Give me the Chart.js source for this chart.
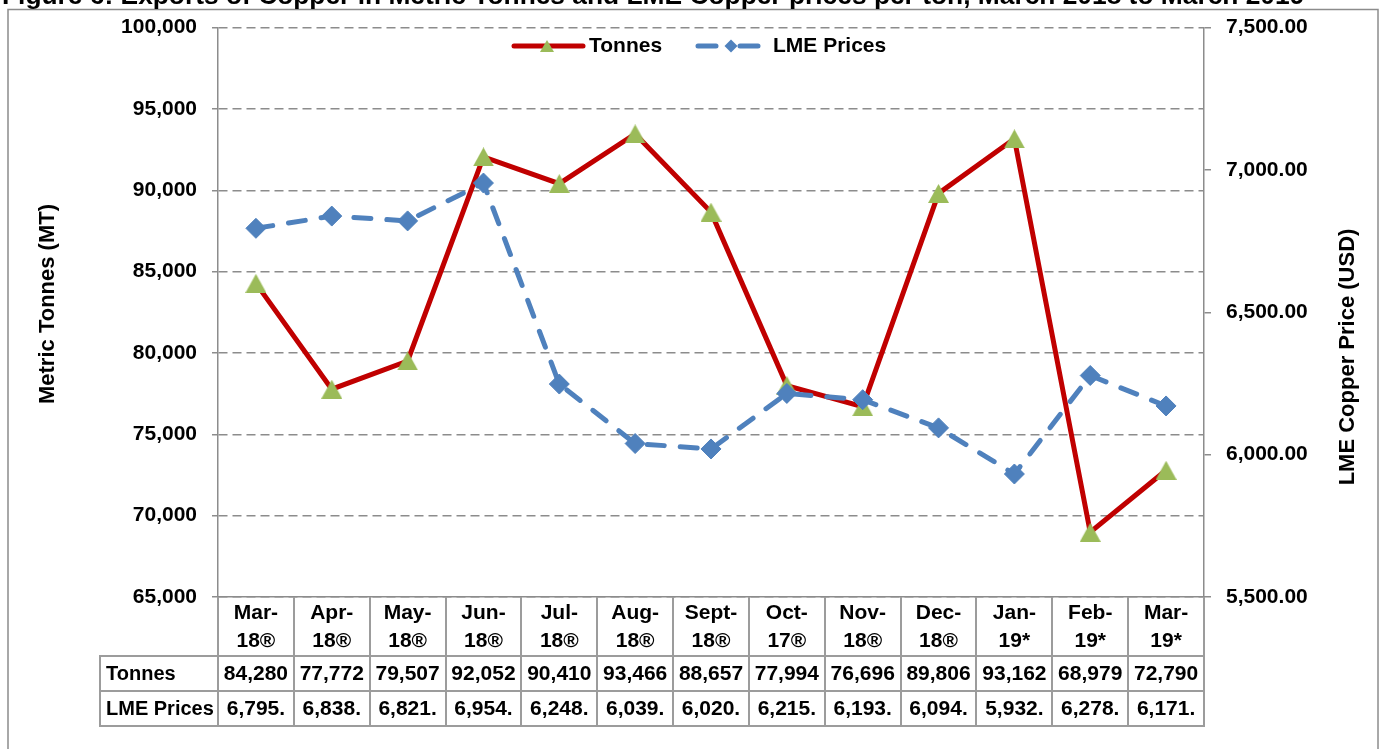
<!DOCTYPE html>
<html>
<head>
<meta charset="utf-8">
<title>Copper exports</title>
<script src="https://cdn.jsdelivr.net/npm/chart.js@4.4.1/dist/chart.umd.min.js"></script>
<style>
    html, body { margin: 0; padding: 0; background: #fff; }
    #wrap { width: 1384px; height: 749px; position: relative; }
</style>
</head>
<body>
<div id="wrap"><canvas id="copperChart"></canvas></div>
<script>
const months = [
    ['Mar-', '18®'], ['Apr-', '18®'], ['May-', '18®'], ['Jun-', '18®'], ['Jul-', '18®'],
    ['Aug-', '18®'], ['Sept-', '18®'], ['Oct-', '17®'], ['Nov-', '18®'], ['Dec-', '18®'],
    ['Jan-', '19*'], ['Feb-', '19*'], ['Mar-', '19*']
];
const tonnes = [84280, 77772, 79507, 92052, 90410, 93466, 88657, 77994, 76696, 89806, 93162, 68979, 72790];
const lmePrices = [6795, 6838, 6821, 6954, 6248, 6039, 6020, 6215, 6193, 6094, 5932, 6278, 6171];
const tonnesAxis = [65000, 100000, 5000];
const priceAxis = [5500, 7500, 500];

const TITLE = 'Figure 6: Exports of Copper in Metric Tonnes and LME Copper prices per ton, March 2018 to March 2019';
const FONT = "'Liberation Sans', Arial, sans-serif";
const GRID = '#8c8c8c';
const RED = '#c00000';
const GREEN = '#9bbb59';
const BLUE = '#4f81bd';

Chart.defaults.color = '#000';
Chart.defaults.font.family = FONT;

const fmt = v => v.toLocaleString('en-US');

// Excel-like triangle: centred on its bounding box, not on the circumcircle
function triangleMarker(w, h) {
    const c = document.createElement('canvas');
    c.width = w;
    c.height = h;
    const g = c.getContext('2d');
    g.fillStyle = GREEN;
    g.beginPath();
    g.moveTo(w / 2, 0);
    g.lineTo(w, h);
    g.lineTo(0, h);
    g.closePath();
    g.fill();
    return c;
}

function drawDiamond(ctx, x, y, r) {
    ctx.beginPath();
    ctx.moveTo(x, y - r);
    ctx.lineTo(x + r, y);
    ctx.lineTo(x, y + r);
    ctx.lineTo(x - r, y);
    ctx.closePath();
    ctx.fill();
}

const triPoint = triangleMarker(21, 19);
const triLegend = triangleMarker(14, 12);

// white page, outer frame and the (cropped) figure caption
const framePlugin = {
    id: 'frame',
    beforeDraw(chart) {
        const ctx = chart.ctx;
        ctx.save();
        ctx.fillStyle = '#fff';
        ctx.fillRect(0, 0, chart.width, chart.height);
        ctx.strokeStyle = GRID;
        ctx.lineWidth = 1.5;
        ctx.strokeRect(8, 9.5, 1370, 800);

        ctx.font = `bold 24px ${FONT}`;
        const w = ctx.measureText(TITLE).width;
        const size = 24 * 1303 / w;
        ctx.font = `bold ${size}px ${FONT}`;
        ctx.fillStyle = '#000';
        ctx.textBaseline = 'alphabetic';
        ctx.textAlign = 'left';
        ctx.fillText(TITLE, 2, 4);
        ctx.restore();
    }
};

// axis titles, legend and the data table under the x axis
const overlayPlugin = {
    id: 'overlay',
    afterDraw(chart) {
        const { ctx, chartArea: area, scales: { x } } = chart;
        ctx.save();

        // axis titles (both read bottom to top)
        ctx.fillStyle = '#000';
        ctx.textAlign = 'center';
        ctx.textBaseline = 'middle';
        ctx.font = `bold 22px ${FONT}`;
        [[48, 304, 'Metric Tonnes (MT)'], [1348, 357, 'LME Copper Price (USD)']].forEach(([tx, ty, txt]) => {
            ctx.save();
            ctx.translate(tx, ty);
            ctx.rotate(-Math.PI / 2);
            ctx.fillText(txt, 0, 0);
            ctx.restore();
        });

        // legend
        const ly = 46;
        const ds = chart.data.datasets;
        ctx.lineCap = 'round';
        ctx.lineWidth = 5;
        ctx.strokeStyle = RED;
        ctx.beginPath();
        ctx.moveTo(514, ly);
        ctx.lineTo(583, ly);
        ctx.stroke();
        ctx.drawImage(triLegend, 547 - 7, ly - 6);
        ctx.strokeStyle = BLUE;
        ctx.beginPath();
        ctx.moveTo(698, ly);
        ctx.lineTo(716, ly);
        ctx.moveTo(740, ly);
        ctx.lineTo(758, ly);
        ctx.stroke();
        ctx.fillStyle = BLUE;
        drawDiamond(ctx, 731, ly, 6.5);
        ctx.fillStyle = '#000';
        ctx.textAlign = 'left';
        ctx.font = `bold 21px ${FONT}`;
        ctx.fillText(ds[0].label, 589, ly);
        ctx.fillText(ds[1].label, 773, ly);

        // data table
        const step = x.getPixelForValue(1) - x.getPixelForValue(0);
        const rowTop = area.bottom + 59;
        const rowH = 35;
        const labelLeft = 100;
        ctx.strokeStyle = '#9c9c9c';
        ctx.lineWidth = 2;
        ctx.lineCap = 'butt';
        ctx.beginPath();
        for (let i = 0; i <= months.length; i++) {
            const px = Math.round(x.getPixelForValue(i) - step / 2);
            ctx.moveTo(px, area.bottom);
            ctx.lineTo(px, rowTop + 2 * rowH);
        }
        ctx.moveTo(labelLeft, rowTop);
        ctx.lineTo(labelLeft, rowTop + 2 * rowH);
        for (let r = 0; r <= 2; r++) {
            ctx.moveTo(labelLeft - 1, rowTop + r * rowH);
            ctx.lineTo(area.right + 1, rowTop + r * rowH);
        }
        ctx.stroke();

        const rows = [
            [ds[0].label, tonnes.map(fmt)],
            [ds[1].label, lmePrices.map(v => fmt(v) + '.')]
        ];
        rows.forEach(([name, cells], r) => {
            const cy = rowTop + r * rowH + rowH / 2 + 1;
            ctx.textAlign = 'left';
            ctx.font = `bold 20px ${FONT}`;
            ctx.fillText(name, labelLeft + 6, cy);
            ctx.textAlign = 'center';
            ctx.font = `bold 21px ${FONT}`;
            cells.forEach((c, i) => ctx.fillText(c, x.getPixelForValue(i), cy));
        });
        ctx.restore();
    }
};

const tickFont = { family: FONT, size: 21, weight: 'bold' };

new Chart(document.getElementById('copperChart'), {
    type: 'line',
    data: {
        labels: months,
        datasets: [
            {
                label: 'Tonnes',
                data: tonnes,
                yAxisID: 'y',
                borderColor: RED,
                borderWidth: 5,
                pointStyle: triPoint,
                pointRadius: 11,
                pointBackgroundColor: GREEN,
                pointBorderColor: GREEN,
                tension: 0,
                order: 2
            },
            {
                label: 'LME Prices',
                data: lmePrices,
                yAxisID: 'y1',
                borderColor: BLUE,
                borderWidth: 5,
                borderDash: [17, 16],
                borderCapStyle: 'round',
                pointStyle: 'rectRot',
                pointRadius: 10,
                pointBackgroundColor: BLUE,
                pointBorderColor: BLUE,
                pointBorderWidth: 1,
                tension: 0,
                order: 1
            }
        ]
    },
    options: {
        responsive: true,
        maintainAspectRatio: false,
        animation: false,
        layout: { padding: { top: 26, left: 0, right: 0, bottom: 0 } },
        plugins: {
            legend: { display: false },
            tooltip: { enabled: false }
        },
        scales: {
            x: {
                offset: true,
                grid: { display: false, drawTicks: false },
                border: { color: GRID, width: 1.5 },
                ticks: {
                    font: { ...tickFont, lineHeight: '28px' },
                    color: '#000',
                    padding: 2,
                    maxRotation: 0,
                    autoSkip: false
                },
                afterFit(s) { s.height = 152; }
            },
            y: {
                position: 'left',
                min: tonnesAxis[0],
                max: tonnesAxis[1],
                ticks: {
                    stepSize: tonnesAxis[2],
                    font: tickFont,
                    color: '#000',
                    padding: 15,
                    callback: v => fmt(v)
                },
                grid: {
                    color: GRID,
                    lineWidth: 1.5,
                    tickLength: 6,
                    tickColor: GRID,
                    tickWidth: 1.5,
                    tickBorderDash: []
                },
                border: { color: GRID, width: 1.5, dash: [9, 5] },
                afterFit(s) { s.width = 218; }
            },
            y1: {
                position: 'right',
                min: priceAxis[0],
                max: priceAxis[1],
                ticks: {
                    stepSize: priceAxis[2],
                    font: tickFont,
                    color: '#000',
                    padding: 15,
                    callback: v => v.toLocaleString('en-US', { minimumFractionDigits: 2, maximumFractionDigits: 2 })
                },
                grid: {
                    drawOnChartArea: false,
                    color: GRID,
                    lineWidth: 1.5,
                    tickLength: 7,
                    tickColor: GRID,
                    tickWidth: 1.5,
                    tickBorderDash: []
                },
                border: { color: GRID, width: 1.5 },
                afterFit(s) { s.width = 180; }
            }
        }
    },
    plugins: [framePlugin, overlayPlugin]
});
</script>
</body>
</html>
